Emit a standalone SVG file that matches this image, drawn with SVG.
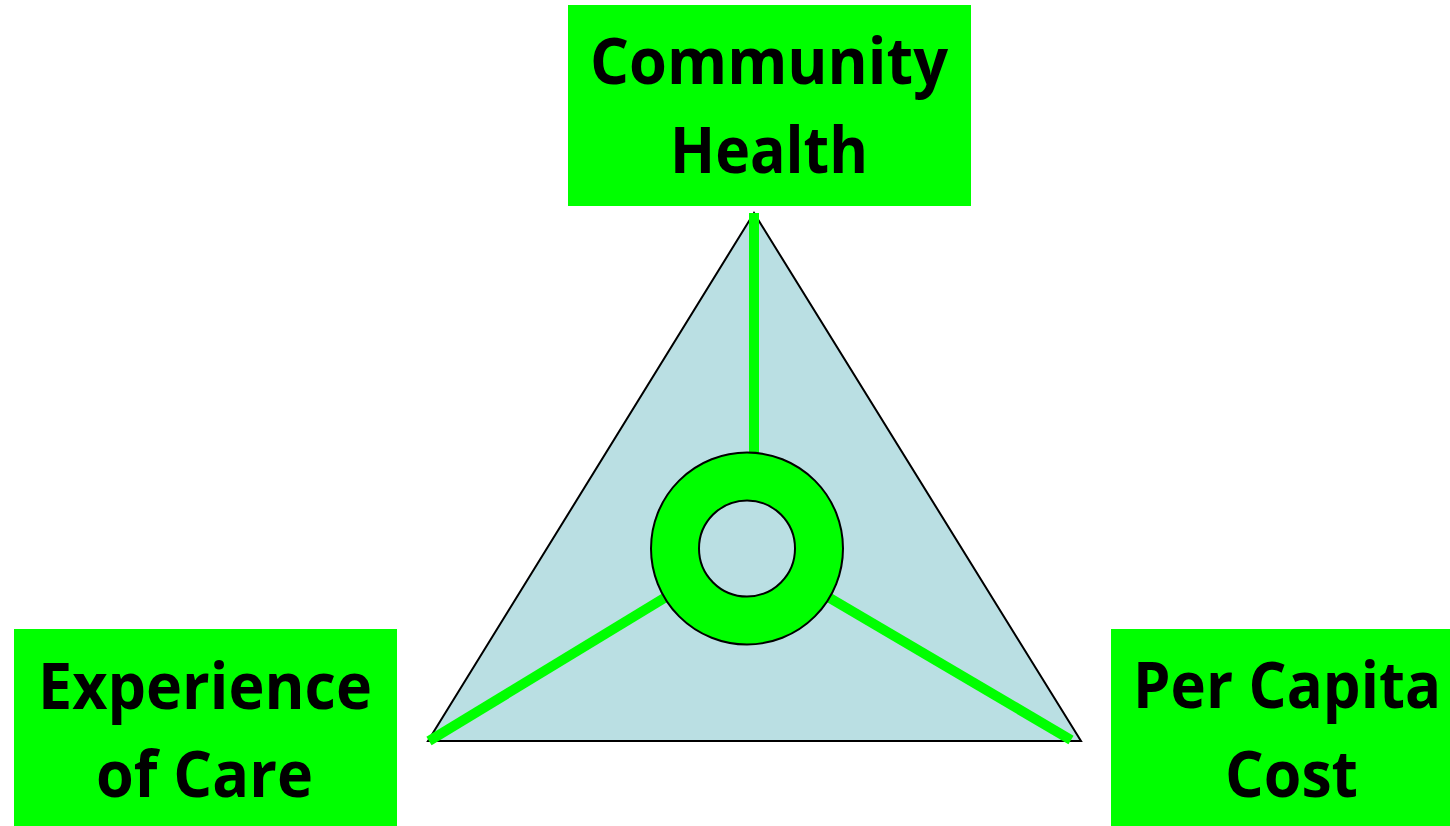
<svg xmlns="http://www.w3.org/2000/svg" width="1450" height="826" viewBox="0 0 1450 826">
  <style>
    .box { fill: #00FF00; }
    .lbl { font-family: "Open Sans", "Liberation Sans", sans-serif; font-weight: bold; font-size: 64px; fill: #000; }
    .spoke { stroke: #00FF00; stroke-width: 10; fill: none; }
  </style>
  <rect width="1450" height="826" fill="#FFFFFF"/>
  <g id="triangle">
    <polygon points="754,213 428,741 1081,741" fill="#BADFE3" stroke="#000" stroke-width="2"/>
  </g>
  <g id="connectors">
    <line class="spoke" x1="754" y1="213" x2="754" y2="454"/>
    <line class="spoke" x1="429" y1="741" x2="666" y2="597"/>
    <line class="spoke" x1="828" y1="597" x2="1071" y2="740"/>
  </g>
  <g id="hub">
    <circle cx="747" cy="548.5" r="96" fill="#00FF00" stroke="#000" stroke-width="2"/>
    <circle cx="747" cy="548.5" r="48" fill="#BADFE3" stroke="#000" stroke-width="2"/>
  </g>
  <g id="community-health">
    <rect class="box" x="568" y="5" width="403" height="201"/>
    <text class="lbl" x="590" y="84" textLength="358" lengthAdjust="spacingAndGlyphs">Community</text>
    <text class="lbl" x="670" y="173" textLength="198" lengthAdjust="spacingAndGlyphs">Health</text>
  </g>
  <g id="experience-of-care">
    <rect class="box" x="14" y="629" width="383" height="197"/>
    <text class="lbl" x="38" y="709" textLength="334" lengthAdjust="spacingAndGlyphs">Experience</text>
    <text class="lbl" x="96" y="797" textLength="217" lengthAdjust="spacingAndGlyphs">of Care</text>
  </g>
  <g id="per-capita-cost">
    <rect class="box" x="1111" y="629" width="339" height="197"/>
    <text class="lbl" x="1133" y="708" textLength="308" lengthAdjust="spacingAndGlyphs">Per Capita</text>
    <text class="lbl" x="1225" y="797" textLength="133" lengthAdjust="spacingAndGlyphs">Cost</text>
  </g>
</svg>
